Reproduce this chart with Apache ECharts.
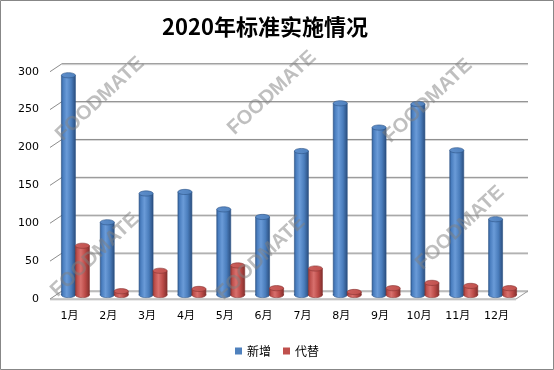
<!DOCTYPE html>
<html><head><meta charset="utf-8">
<script src="https://cdn.jsdelivr.net/npm/echarts@6/dist/echarts.min.js"></script>
<style>html,body{margin:0;padding:0;background:#fff}#c{width:554px;height:370px}</style>
</head><body><div id="c"></div>
<script>
const categories = ['1月','2月','3月','4月','5月','6月','7月','8月','9月','10月','11月','12月'];
const seriesNames = ['新增','代替'];
const added = [290, 96, 134, 136, 113, 103, 190, 253, 221, 252, 191, 100];
const replaced = [65, 5, 32, 8, 39, 9, 35, 4, 9, 16, 12, 9];
const yTicks = [0, 50, 100, 150, 200, 250, 300];
const watermarkText = 'FOODMATE';

const DX = 12, DY = -8;
const BAR_W = 14;
const RY = 2.6;

const palettes = [
  {base:'#4F81BD', edge:'#2c5285', top:'#5f8fcc',
   stops:[[0,'#34609a'],[0.12,'#4a7ebf'],[0.38,'#6a9bd8'],[0.7,'#4a7dbc'],[1,'#2b4f80']]},
  {base:'#C0504D', edge:'#843230', top:'#cc605d',
   stops:[[0,'#993936'],[0.12,'#bd4f4c'],[0.38,'#d8706d'],[0.7,'#bb4a47'],[1,'#84302e']]}
];

function barRender(k) {
  const p = palettes[k];
  return function (params, api) {
    const i = api.value(0), v = api.value(1);
    const top = api.coord([i, v]);
    const base = api.coord([i, 0]);
    const cx = top[0] + DX / 2 + (k === 0 ? -BAR_W / 2 : BAR_W / 2);
    const yT = top[1] + DY / 2, yB = base[1] + DY / 2;
    const x0 = cx - BAR_W / 2;
    const grad = () => new echarts.graphic.LinearGradient(0, 0, 1, 0,
      p.stops.map(s => ({offset: s[0], color: s[1]})));
    return {type: 'group', children: [
      {type: 'ellipse', shape: {cx: cx, cy: yB, rx: BAR_W / 2, ry: RY}, style: {fill: grad(), stroke: p.edge, lineWidth: 0.6}},
      {type: 'rect', shape: {x: x0, y: yT, width: BAR_W, height: Math.max(0, yB - yT)}, style: {fill: grad()}},
      {type: 'line', shape: {x1: x0, y1: yT, x2: x0, y2: yB}, style: {stroke: p.edge, lineWidth: 0.6}},
      {type: 'line', shape: {x1: x0 + BAR_W, y1: yT, x2: x0 + BAR_W, y2: yB}, style: {stroke: p.edge, lineWidth: 0.6}},
      {type: 'ellipse', shape: {cx: cx, cy: yT, rx: BAR_W / 2, ry: RY},
       style: {fill: new echarts.graphic.LinearGradient(0, 0, 1, 1, [{offset: 0, color: p.top}, {offset: 1, color: p.base}]), stroke: p.edge, lineWidth: 0.6}}
    ]};
  };
}

function wallRender(params, api) {
  const cs = params.coordSys;
  const v = api.value(1);
  const y = api.coord([0, v])[1];
  const gx = cs.x, gr = cs.x + cs.width;
  const ch = [
    {type: 'line', shape: {x1: gx + DX, y1: y + DY + 1, x2: gr + DX, y2: y + DY + 1}, style: {stroke: '#d6d6d6', lineWidth: 1}},
    {type: 'line', shape: {x1: gx + DX, y1: y + DY, x2: gr + DX, y2: y + DY}, style: {stroke: '#8c8c8c', lineWidth: 1}},
    {type: 'line', shape: {x1: gx, y1: y, x2: gx + DX, y2: y + DY}, style: {stroke: '#8c8c8c', lineWidth: 1}}
  ];
  if (v === 0) {
    ch.push({type: 'line', shape: {x1: gx, y1: y + 1, x2: gr, y2: y + 1}, style: {stroke: '#d6d6d6', lineWidth: 1}});
    ch.push({type: 'line', shape: {x1: gx, y1: y, x2: gr, y2: y}, style: {stroke: '#9a9a9a', lineWidth: 1}});
    ch.push({type: 'line', shape: {x1: gr, y1: y, x2: gr + DX, y2: y + DY}, style: {stroke: '#9a9a9a', lineWidth: 1}});
  }
  return {type: 'group', children: ch};
}

const wmCenters = [[100, 99], [272, 93], [428, 101], [95, 255], [261, 258], [460, 228]];

const chart = echarts.init(document.getElementById('c'), null, {renderer: 'canvas'});
chart.setOption({
  animation: false,
  backgroundColor: '#fff',
  title: {
    text: '2020年标准实施情况', left: 157, top: 11,
    textStyle: {fontFamily: 'Noto Sans CJK SC', fontSize: 22, fontWeight: 'bold', color: '#000'}
  },
  legend: {
    data: seriesNames, left: 'center', top: 340, icon: 'rect', itemWidth: 7, itemHeight: 7, itemGap: 12,
    textStyle: {fontFamily: 'Noto Sans CJK SC', fontSize: 12, color: '#000'}
  },
  grid: {left: 50, top: 71.7, width: 466, height: 227.3},
  xAxis: {
    type: 'category', data: categories, boundaryGap: true,
    axisLine: {show: false}, axisTick: {show: false},
    axisLabel: {margin: 12, fontFamily: 'DejaVu Sans, Noto Sans CJK SC', fontSize: 11, color: '#000'}
  },
  yAxis: {
    type: 'value', min: 0, max: 300, interval: 50,
    axisLine: {show: false}, axisTick: {show: false}, splitLine: {show: false},
    axisLabel: {margin: 11, fontFamily: 'DejaVu Sans', fontSize: 11, color: '#000'}
  },
  series: [
    {type: 'custom', name: 'wall', silent: true, z: 1, renderItem: wallRender,
     data: yTicks.map(v => [0, v]), encode: {x: 0, y: 1}},
    {type: 'custom', name: seriesNames[0], z: 2, itemStyle: {color: palettes[0].base}, renderItem: barRender(0),
     data: added.map((v, i) => [i, v]), encode: {x: 0, y: 1}},
    {type: 'custom', name: seriesNames[1], z: 3, itemStyle: {color: palettes[1].base}, renderItem: barRender(1),
     data: replaced.map((v, i) => [i, v]), encode: {x: 0, y: 1}}
  ],
  graphic: [
    {type: 'rect', shape: {x: 0.5, y: 0.5, width: 553, height: 369}, style: {fill: 'none', stroke: '#878787', lineWidth: 1}, z: 100, silent: true}
  ].concat(wmCenters.map(c => ({
    type: 'text', x: c[0], y: c[1], rotation: 43 * Math.PI / 180, z: 100, silent: true,
    style: {text: watermarkText, align: 'center', verticalAlign: 'middle',
            font: 'bold 20px "Liberation Sans", Arial, sans-serif', fill: 'rgba(128,128,128,0.5)'}
  })))
});
</script></body></html>
